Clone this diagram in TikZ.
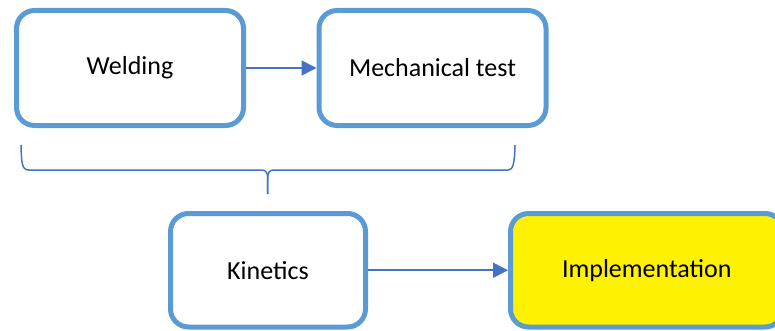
\documentclass[tikz,border=0pt]{standalone}
\usepackage{fontspec}
\setmainfont{Carlito}
\usetikzlibrary{arrows.meta}
\definecolor{bordure}{HTML}{5B9BD5}
\definecolor{fleche}{HTML}{4472C4}
\begin{document}
\begin{tikzpicture}[x=1pt,y=1pt,
  boite/.style={draw=bordure,line width=5pt,rounded corners=18pt,fill=white,
    minimum width=227pt,minimum height=115pt,font=\fontsize{26}{30}\selectfont},
  lien/.style={draw=fleche,line width=1.6pt,
    -{Triangle[length=15pt,width=15pt]}},
  accolade/.style={draw=fleche,line width=1.5pt}]
\clip (0,0) rectangle (775,330);%cadre
\node[boite] (soudage) at (130,262) {Welding};%haut gauche
\node[boite] (essai) at (432.5,262) {Mechanical test};%haut droite
\node[boite,minimum width=195pt,minimum height=113.5pt] (cinetique) at (268,59.75) {Kinetics};
\node[boite,fill=yellow,minimum width=272.5pt,minimum height=113.5pt] (mise) at (646.75,59.75) {Implementation};
\draw[lien] (soudage) -- (essai);
\draw[lien] (cinetique) -- (mise);
\coordinate (accG) at (21,185);%accolade
\coordinate (pointe) at (267.7,136);
\coordinate (accD) at (515,185);
\draw[accolade] (accG) .. controls (21.5,166) and (22,160) .. (29,160) -- (262,160)
  .. controls (266,160) and (267.7,157) .. (267.7,152) -- (pointe);
\draw[accolade] (pointe) -- (267.7,152) .. controls (267.7,157) and (269.4,160) .. (273.4,160)
  -- (508,160) .. controls (513,160) and (514.5,166) .. (accD);
\end{tikzpicture}
\end{document}
